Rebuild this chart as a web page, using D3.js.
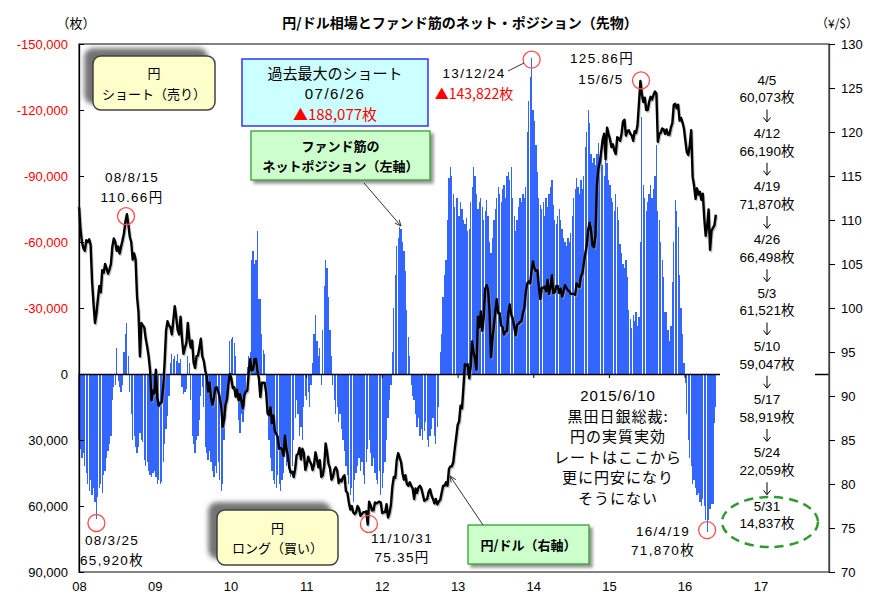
<!DOCTYPE html>
<html><head><meta charset="utf-8">
<script src="https://cdn.jsdelivr.net/npm/d3@7"></script>
<style>body{margin:0;background:#fff}svg{display:block}</style>
</head><body>
<svg id="c" width="869" height="595"></svg>
<script>
// ---- Data (weekly, Tuesdays) ----
// Net yen futures position of speculators, thousands of contracts (+ = long yen, - = short yen)
const netK2008 = [30,34,38,36,42, 45,50,53,48, 55,52,58,65.92, 56,52,50,54,46, 44,38,35,32, 28,12,6,5, -12,3,6,8,5, -10,-18,-23,-8, 8,18,30,28,33, 36,33,27,30, 31,39,42,40, 44,46,47,45,44];
const netK2009 = [47,50,48,50, 49,40,32,25, 19,10,-5,-9,-7, -8,-6,-9,-5, -7,6,9,8, 7,-8,-5,12,28, 32,36,30,28, 21,10,6,15, 33,36,39,35,40, 44,47,42,45, 40,48,53,50, 30,21,12,6,-15];
const netK2010 = [-16,-17,-14,-8, 10,21,27,18, 22,15,8,-3,-8, -10,-52,-56,-50, -52,-65,-34,-34, -18,-11,-9,8,15, 30,38,44,48, 50,52,46,50,53, 48,45,36,42, 40,45,47,42, 30,20,12,18,28, 24,30,15,10];
const netK2011 = [12,8,15,5, -5,-18,-27,-15, -8,-12,5,-20,-40, -52,-48,-35,-20, -8,5,12,18,15, 22,18,25,30, 35,42,46,50, 55,52,58,48,45, 42,38,44,40, 46,50,40,34, 30,36,42,38,45, 48,50,44,55];
const netK2012 = [52,45,40,30,20, 12,5,-10,-30, -45,-58,-62,-67, -66,-60,-56,-47, -29,-17,-8,5,10, 12,18,24,20, 28,25,30,26,22, 30,33,28,25, 20,28,32,24, 15,-10,-18,-35,-45, -52,-70,-89,-94, -90,-82,-76,-80];
const netK2013 = [-80,-72,-78,-75,-70, -68,-71,-65,-66, -78,-85,-94,-90, -82,-75,-78,-80,-76, -70,-74,-79,-72, -60,-55,-62,-70, -75,-80,-85,-82,-78, -84,-86,-80,-90, -92,-88,-94,-80, -72,-65,-70,-76,-80, -78,-82,-80,-85, -110,-124,-135,-143.822,-120];
const netK2014 = [-115,-104,-92,-80, -77,-75,-78,-72, -80,-76,-82,-85, -88,-77,-70,-68,-72, -75,-70,-66,-62, -60,-58,-62,-60, -64,-72,-80,-84,-89, -85,-82,-88,-84, -90,-103,-110,-120,-114, -100,-96,-98,-95, -100,-105,-98,-102, -95,-90,-100,-96,-88];
const netK2015 = [-86,-80,-78,-74, -82,-76,-70,-59, -55,-50,-48,-52,-44, -29,-25,-21,-27, -24,-28,-22,-26, -60,-117,-86,-80,-74, -78,-82,-86,-80, -84,-90,-104,-74, -70,-60,-52,-44,-28, -28,-20,-15,-22, -42,-60,-79,-74, -67,-45,-30,-18,-5];
const netK2016 = [4,18,30,38, 42,50,48,52, 55,54,58,60,57, 60.073,66.19,71.87,66.498, 61.521,59.047,58.919,22.059,14.837];

// USD/JPY (yen per dollar), same weeks
const usd2008 = [111.5,109.0,107.5,106.8,106.5, 107.7,107.5,107.8,107.2, 103.0,100.5,98.3,99.4, 101.0,102.5,101.8,104.3,104.0, 105.0,104.5,103.9,104.4, 105.0,107.0,107.9,107.5, 106.5,107.0,106.2,107.0,107.7, 108.5,109.8,110.66,109.5, 108.1,107.5,105.5,106.2,105.5, 101.3,99.5,94.5,98.3, 98.0,97.8,96.5,95.6, 94.5,92.9,89.5,90.6,90.3];
const usd2009 = [93.0,89.8,88.9,89.2, 89.3,91.0,93.8,97.4, 98.5,98.0,97.8,97.0,98.6, 100.2,99.0,97.5,97.0, 99.0,96.5,94.8,95.5, 96.0,98.3,96.5,95.5,96.3, 93.8,93.2,94.5,94.6, 95.5,96.5,94.5,94.0, 92.9,92.3,90.5,91.5,89.8, 89.0,89.8,90.9,91.0, 90.5,89.8,88.9,86.5, 87.3,89.0,89.6,91.3,92.5];
const usd2010 = [92.0,90.9,91.0,89.9, 90.7,89.5,90.2,89.4, 88.6,90.1,90.5,90.6,92.7, 94.2,92.9,93.0,94.2, 94.2,92.9,92.0,89.9, 91.5,91.5,91.5,90.4,88.0, 87.8,88.7,86.9,87.8, 86.0,85.7,85.3,84.0,84.1, 83.9,83.2,85.5,84.0, 83.2,81.8,81.3,81.4, 80.8,81.7,83.3,83.4,84.1, 82.8,84.0,83.5,81.6];
const usd2011 = [82.2,83.1,82.6,82.3, 81.6,82.2,83.6,82.8, 81.9,82.7,80.8,81.0,82.0, 84.6,83.6,82.3,81.8, 80.5,80.8,81.6,81.9,81.5, 80.1,80.5,80.3,80.8, 81.0,79.2,79.0,77.9, 77.1,77.5,76.8,76.6,76.8, 77.5,77.2,76.4,76.6, 76.8,76.8,76.9,75.4, 78.0,77.6,77.0,77.0,77.9, 77.8,77.9,78.0,77.9];
const usd2012 = [76.7,76.8,76.8,77.7,76.2, 76.7,77.6,79.7,80.8, 80.7,82.7,83.5,83.0, 82.5,81.2,80.5,81.0, 80.0,79.8,80.2,79.8,79.5, 78.3,79.5,79.0,79.6, 79.8,79.5,78.8,78.1,78.2, 78.3,79.1,79.4,78.7, 78.3,77.8,78.3,77.7, 78.0,78.2,79.0,79.8,79.8, 80.2,79.8,81.7,82.0, 82.0,82.5,84.0,85.3];
const usd2013 = [86.7,87.1,88.9,88.6,91.0, 93.6,93.5,93.6,92.0, 93.3,96.2,95.0,94.2, 93.0,99.0,97.8,99.6,97.4, 99.0,102.2,102.6,102.1, 99.6,94.4,96.5,98.0, 99.6,101.0,99.4,99.4,98.0, 97.8,97.0,97.3,97.4, 99.5,100.4,99.2,98.8, 97.9,96.9,98.1,98.2,98.4, 98.5,99.4,100.0,101.8, 102.8,103.0,102.8,104.3,105.3];
const usd2014 = [104.5,104.2,104.3,102.4, 101.0,102.3,102.3,102.4, 101.9,103.2,101.6,102.3, 103.7,101.7,101.8,102.5,102.5, 101.7,102.2,101.3,101.9, 102.6,102.3,102.0,101.9, 101.6,101.6,101.6,101.5,102.8, 102.5,102.4,103.6,103.9, 105.1,106.2,107.1,108.9,109.7, 108.8,107.1,106.9,108.2, 114.0,115.8,116.6,117.8, 119.2,119.8,116.9,120.5,119.8];
const usd2015 = [119.2,118.3,118.6,117.9, 117.5,119.4,119.3,119.0, 119.8,121.2,121.4,119.6,120.1, 120.2,119.8,119.6,119.0, 120.1,119.9,120.8,123.3, 125.8,124.3,123.4,123.9,122.5, 122.5,123.4,124.0,123.7, 124.2,124.6,124.4,118.9, 119.8,119.9,120.4,120.3,119.8, 120.3,119.7,119.7,120.5, 121.0,123.1,123.2,122.7, 123.1,121.3,121.6,121.1,120.4];
const usd2016 = [119.0,117.7,117.4,118.5, 120.2,114.9,113.9,112.4, 113.6,112.9,113.2,112.3,113.0, 110.2,108.2,109.3,111.2, 106.6,108.8,109.1,109.4,110.6];

const dataYears = [2008,2009,2010,2011,2012,2013,2014,2015,2016];
const netSeries = [netK2008,netK2009,netK2010,netK2011,netK2012,netK2013,netK2014,netK2015,netK2016];
const usdSeries = [usd2008,usd2009,usd2010,usd2011,usd2012,usd2013,usd2014,usd2015,usd2016];

const leftTicks = [-150,-120,-90,-60,-30,0,30,60,90];      // thousands of contracts
const rightTicks = [70,75,80,85,90,95,100,105,110,115,120,125,130];
const axisYears = [2008,2009,2010,2011,2012,2013,2014,2015,2016,2017];

const recentDates = ["4/5","4/12","4/19","4/26","5/3","5/10","5/17","5/24","5/31"];
const recentValues = ["60,073","66,190","71,870","66,498","61,521","59,047","58,919","22,059","14,837"];
const commentLines = ["2015/6/10","黒田日銀総裁:","円の実質実効","レートはここから","更に円安になり","そうにない"];

// ---- Build weekly rows ----
function firstTuesday(y){const d=new Date(y,0,1);return (2-d.getDay()+7)%7+1;}
const rows=[];
dataYears.forEach((y,k)=>{
  const d0=firstTuesday(y);
  netSeries[k].forEach((v,i)=>rows.push({date:new Date(y,0,d0+7*i),net:v,usd:usdSeries[k][i]}));
});

// ---- Layout ----
const svg=d3.select("#c");
const L=79,R=829,T=44,B=572;
const x=d3.scaleTime().domain([new Date(2008,0,1),new Date(2017,10,28)]).range([L,R]);
const yL=d3.scaleLinear().domain([-150,90]).range([T,B]);
const yR=d3.scaleLinear().domain([70,130]).range([B,T]);
const JP="'Noto Sans CJK JP','Noto Sans',sans-serif";
const NUM="'Liberation Sans','Noto Sans CJK JP',sans-serif";
const barColor="#3366ff";

const defs=svg.append("defs");
const f1=defs.append("filter").attr("id","shUL").attr("x","-30%").attr("y","-40%").attr("width","160%").attr("height","180%");
f1.append("feDropShadow").attr("dx",-8).attr("dy",-7).attr("stdDeviation",2.5).attr("flood-color","#444").attr("flood-opacity",0.75);
const f2=defs.append("filter").attr("id","shBR").attr("x","-20%").attr("y","-30%").attr("width","140%").attr("height","170%");
f2.append("feDropShadow").attr("dx",3).attr("dy",3).attr("stdDeviation",1.5).attr("flood-color","#666").attr("flood-opacity",0.7);
const mk=defs.append("marker").attr("id","arr").attr("viewBox","0 0 10 10").attr("refX",9).attr("refY",5)
  .attr("markerWidth",7).attr("markerHeight",7).attr("orient","auto-start-reverse");
mk.append("path").attr("d","M0,1 L9,5 L0,9").attr("fill","none").attr("stroke","#333").attr("stroke-width",1.3);

// bars
const bw=1.25;
svg.append("g").attr("shape-rendering","crispEdges").selectAll("rect").data(rows).join("rect")
  .attr("x",d=>x(d.date)-bw/2).attr("width",bw)
  .attr("y",d=>Math.min(yL(d.net),yL(0))).attr("height",d=>Math.abs(yL(d.net)-yL(0)))
  .attr("fill",barColor);

// zero line with year ticks
const zeroAx=svg.append("g").attr("transform",`translate(0,${yL(0)})`)
  .call(d3.axisBottom(x).tickValues(axisYears.map(y=>new Date(y,0,1))).tickFormat("").tickSizeInner(4).tickSizeOuter(0));
zeroAx.select(".domain").attr("stroke","#000").attr("stroke-width",1.5);
zeroAx.selectAll(".tick line").attr("stroke","#000");

// USD/JPY line with slight shadow
const line=d3.line().x(d=>x(d.date)).y(d=>yR(d.usd));
svg.append("path").datum(rows).attr("d",line).attr("fill","none").attr("stroke","#9a9a9a").attr("stroke-width",2.4)
  .attr("stroke-opacity",0.6).attr("transform","translate(1,1.5)").attr("stroke-linejoin","round");
svg.append("path").datum(rows).attr("d",line).attr("fill","none").attr("stroke","#000").attr("stroke-width",2.4).attr("stroke-linejoin","round");

// white text column on right
svg.append("rect").attr("x",720).attr("y",70).attr("width",95).attr("height",428).attr("fill","#fff");

// plot border
svg.append("rect").attr("x",L).attr("y",T).attr("width",R-L).attr("height",B-T).attr("fill","none").attr("stroke","#404040").attr("stroke-width",1.3);

// left axis
const la=svg.append("g").attr("transform",`translate(${L},0)`)
  .call(d3.axisLeft(yL).tickValues(leftTicks).tickSizeInner(-5).tickSizeOuter(0).tickPadding(11)
    .tickFormat(d=>d===0?"0":(d<0?"-":"")+d3.format(",")(Math.abs(d)*1000)));
la.select(".domain").attr("stroke","#000").attr("stroke-width",1.3);
la.selectAll(".tick line").attr("stroke","#000");
la.selectAll("text").attr("font-family",NUM).attr("font-size",13).attr("fill",d=>d<0?"#ff0000":"#000");

// right axis
const ra=svg.append("g").attr("transform",`translate(${R},0)`)
  .call(d3.axisRight(yR).tickValues(rightTicks).tickSizeInner(6).tickSizeOuter(0).tickPadding(6));
ra.select(".domain").attr("stroke","#404040").attr("stroke-width",1.3);
ra.selectAll(".tick line").attr("stroke","#000");
ra.selectAll("text").attr("font-family",NUM).attr("font-size",13).attr("fill","#000");

// bottom year labels
const ba=svg.append("g").attr("transform",`translate(0,${B})`)
  .call(d3.axisBottom(x).tickValues(axisYears.map(y=>new Date(y,0,1))).tickFormat(d3.timeFormat("%y")).tickSize(0).tickPadding(10));
ba.select(".domain").remove();
ba.selectAll("text").attr("font-family",NUM).attr("font-size",13).attr("fill","#000");

// text helper
function txt(xp,yp,s,o={}){
  return svg.append("text").attr("x",xp).attr("y",yp).attr("text-anchor",o.anchor||"middle")
    .attr("dominant-baseline","central").attr("font-family",o.font||JP).attr("font-size",o.size||13)
    .attr("font-weight",o.bold?"bold":"normal").attr("fill",o.color||"#000")
    .attr("letter-spacing",o.ls||0).text(s);
}

// titles
txt(460,22,"円/ドル相場とファンド筋のネット・ポジション（先物）",{size:14,bold:true});
txt(76,22,"（枚）",{size:13});
txt(837,22,"（¥/$）",{size:12});

// yellow boxes
function yBox(x0,y0,w,h,l1,l2){
  svg.append("rect").attr("x",x0).attr("y",y0).attr("width",w).attr("height",h).attr("rx",8)
    .attr("fill","#ffffcc").attr("stroke","#404040").attr("stroke-width",1.5).attr("filter","url(#shUL)");
  txt(x0+w/2,y0+h*0.31,l1,{size:13});
  txt(x0+w/2,y0+h*0.69,l2,{size:13});
}
yBox(93,56,122,54,"円","ショート（売り）");
yBox(217,510,121,55,"円","ロング（買い）");

// cyan box
svg.append("rect").attr("x",242).attr("y",59).attr("width",186).attr("height",67).attr("fill","#ccffff").attr("stroke","#3333ff").attr("stroke-width",1.5);
txt(335,72,"過去最大のショート",{size:15});
txt(335,93,"07/6/26",{size:15,font:NUM,ls:1.5});
txt(335,113,"▲188,077枚",{size:15,color:"#ff0000",font:JP});

// green boxes
function gBox(x0,y0,w,h,lines){
  svg.append("rect").attr("x",x0).attr("y",y0).attr("width",w).attr("height",h)
    .attr("fill","#ccffcc").attr("stroke","#33a033").attr("stroke-width",1.3).attr("filter","url(#shBR)");
  lines.forEach((s,i)=>txt(x0+w/2,y0+h/2+(i-(lines.length-1)/2)*20,s,{size:13,bold:true}));
}
gBox(251,131,179,49,["ファンド筋の","ネットポジション（左軸）"]);
gBox(468,525,121,39,["円/ドル（右軸）"]);

// arrows
svg.append("line").attr("x1",364).attr("y1",183).attr("x2",401).attr("y2",226).attr("stroke","#333").attr("stroke-width",1).attr("marker-end","url(#arr)");
svg.append("line").attr("x1",483).attr("y1",525).attr("x2",450).attr("y2",476).attr("stroke","#333").attr("stroke-width",1).attr("marker-end","url(#arr)");

// red circles at extremes
function circ(cx,cy){svg.append("circle").attr("cx",cx).attr("cy",cy).attr("r",8.5).attr("fill","none").attr("stroke","#ff4d4d").attr("stroke-width",1.3);}
circ(x(new Date(2008,2,25)),yL(65.92)+4);
circ(x(new Date(2008,7,15)),yR(110.66)+2);
circ(x(new Date(2011,9,31)),yR(75.35)-1);
circ(x(new Date(2013,11,24)),yL(-143.822)+2);
circ(x(new Date(2015,5,5)),yR(125.86));
circ(x(new Date(2016,3,19)),yL(71.87)-2);
svg.append("line").attr("x1",508).attr("y1",71).attr("x2",524).attr("y2",63).attr("stroke","#333").attr("stroke-width",1);

// point labels
const NL={font:NUM,size:13.5,ls:1.3};
txt(132,177,"08/8/15",NL); txt(132,197,"110.66円",NL);
txt(112,540,"08/3/25",NL); txt(112,560,"65,920枚",NL);
txt(402,538,"11/10/31",NL); txt(402,557,"75.35円",NL);
txt(474,73,"13/12/24",NL); txt(474,93,"▲143,822枚",{size:14,color:"#ff0000",font:JP});
txt(602,58,"125.86円",NL); txt(601,79,"15/6/5",NL);
txt(663,531,"16/4/19",NL); txt(663,550,"71,870枚",NL);

// Kuroda comment
commentLines.forEach((s,i)=>txt(618,395+i*20.4,s,{size:15,ls:1,font:i===0?NUM:JP}));

// recent weekly positions column
const colLines=[];
recentDates.forEach((d,i)=>{colLines.push(d);colLines.push(recentValues[i]+"枚");if(i<recentDates.length-1)colLines.push("↓");});
colLines.forEach((s,i)=>{
  if(s==="↓"){
    const cy=80+i*17.75;
    svg.append("line").attr("x1",767).attr("x2",767).attr("y1",cy-6).attr("y2",cy+6).attr("stroke","#000").attr("stroke-width",1);
    svg.append("path").attr("d",`M${767-3.5},${cy+2} L767,${cy+6.5} L${767+3.5},${cy+2}`).attr("fill","none").attr("stroke","#000").attr("stroke-width",1);
  } else txt(767,80+i*17.75,s,{size:13.5,font:NUM});
});

// dashed ellipse
svg.append("ellipse").attr("cx",770).attr("cy",522).attr("rx",48).attr("ry",25).attr("fill","none")
  .attr("stroke","#2e9a2e").attr("stroke-width",2.5).attr("stroke-dasharray","9,6");
</script>
</body></html>
